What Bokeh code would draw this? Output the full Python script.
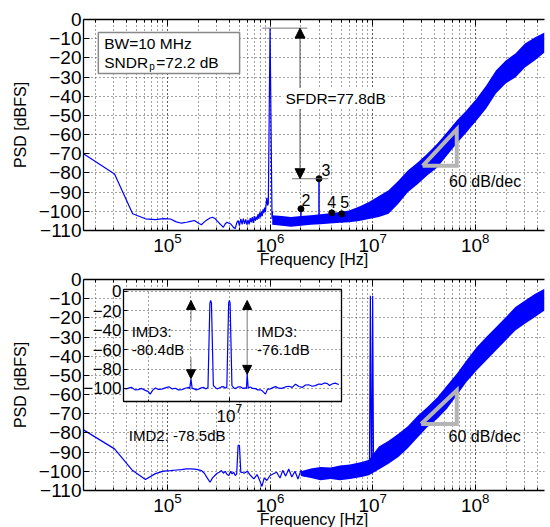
from bokeh.plotting import figure
from bokeh.layouts import column
from bokeh.models import (Range1d, FixedTicker, LogTicker, LogAxis, Label, Arrow,
                          NormalHead, BoxAnnotation)
from bokeh.embed import file_html
from bokeh.resources import INLINE

FONT = "Liberation Sans"
BLUE = "#0000ff"
GRID = "#444444"

# ---------------- data: top spectrum (single tone) ----------------
top_lf_f = [1.52e4, 3.05e4, 4.58e4, 6.1e4, 7.63e4, 9.16e4, 1.07e5, 1.22e5, 1.37e5, 1.53e5,
            1.68e5, 1.83e5, 1.98e5, 2.14e5, 2.29e5, 2.44e5, 2.6e5, 2.75e5, 2.9e5, 3.05e5,
            3.2e5, 3.36e5, 3.51e5, 3.66e5, 3.81e5, 3.97e5, 4.12e5, 4.27e5, 4.42e5, 4.58e5,
            4.73e5, 4.88e5, 5.03e5, 5.19e5, 5.34e5, 5.49e5, 5.64e5, 5.8e5, 5.95e5, 6.1e5,
            6.25e5, 6.41e5, 6.56e5, 6.71e5, 6.86e5, 7.02e5, 7.17e5, 7.32e5, 7.47e5, 7.63e5,
            7.78e5, 7.93e5, 8.08e5, 8.24e5, 8.39e5, 8.54e5, 8.69e5, 8.85e5, 9.0e5, 9.15e5,
            9.3e5, 9.46e5, 9.62e5, 1.0e6, 1.045e6, 1.06e6]
top_lf_db = [-70.0, -80.5, -101.3, -103.9, -104.3, -103.8, -104.0, -105.5, -106.2, -105.7,
             -105.2, -104.8, -106.0, -107.0, -105.5, -104.4, -103.5, -103.1, -103.7, -105.0,
             -106.2, -107.3, -108.3, -106.5, -105.7, -106.2, -106.5, -107.5, -108.5, -109.0,
             -106.0, -104.8, -107.5, -104.0, -106.8, -103.8, -106.5, -104.2, -107.0, -104.5,
             -106.8, -103.5, -105.8, -103.0, -106.0, -102.5, -105.0, -102.8, -104.5, -101.5,
             -104.0, -100.5, -103.0, -100.0, -102.5, -99.0, -101.0, -98.0, -100.5, -96.5,
             -93.0, -97.0, -96.0, -4.5, -104.0, -100.0]

top_band_f = [1.05e6, 1.3e6, 1.6e6, 2.0e6, 2.5e6, 3.1e6, 3.85e6, 4.8e6, 5.9e6, 7.4e6,
              9.2e6, 1.15e7, 1.43e7, 1.78e7, 2.2e7, 2.76e7, 3.4e7, 4.27e7, 5.3e7, 6.6e7,
              8.2e7, 1.03e8, 1.28e8, 1.59e8, 1.98e8, 2.46e8, 3.05e8, 3.8e8, 4.73e8]
top_band_lo = [-107.0, -107.5, -108.0, -107.5, -107.0, -106.8, -106.4, -106.0, -105.7, -105.0,
               -104.0, -103.0, -101.3, -96.0, -90.0, -85.7, -81.3, -77.2, -70.9, -64.7,
               -58.9, -52.7, -46.4, -38.6, -33.4, -30.2, -25.0, -21.4, -17.2]
top_band_hi = [-102.0, -102.5, -103.0, -102.5, -102.0, -101.5, -101.0, -100.3, -99.6, -97.5,
               -95.2, -92.0, -89.0, -84.0, -78.7, -74.4, -70.0, -64.7, -58.8, -52.7,
               -47.4, -41.2, -34.4, -26.6, -21.4, -17.7, -12.5, -9.4, -6.8]

harm_f = [2.0e6, 3.0e6, 4.0e6, 5.0e6]
harm_db = [-98.7, -83.0, -100.8, -101.3]
harm_floor = [-106.0, -106.0, -106.0, -106.0]
harm_lbl = ["2", "3", "4", "5"]
fund_db = -4.5

# ---------------- data: bottom spectrum (two tones) ----------------
bot_lf_f = [1.52e4, 3.05e4, 4.58e4, 6.1e4, 7.63e4, 9.16e4, 1.07e5, 1.22e5, 1.37e5, 1.53e5,
            1.68e5, 1.83e5, 1.98e5, 2.14e5, 2.29e5, 2.44e5, 2.6e5, 2.75e5, 2.9e5, 3.05e5,
            3.2e5, 3.36e5, 3.51e5, 3.66e5, 3.81e5, 3.97e5, 4.12e5, 4.27e5, 4.42e5, 4.58e5,
            4.73e5, 4.88e5, 5.03e5, 5.19e5, 5.34e5, 5.59e5, 6.01e5, 6.46e5, 6.95e5, 7.48e5,
            7.93e5, 8.34e5, 8.77e5, 9.3e5, 1.0e6, 1.08e6, 1.16e6, 1.25e6, 1.33e6, 1.42e6,
            1.52e6, 1.63e6, 1.75e6, 1.87e6, 2.0e6, 2.15e6, 2.3e6]
bot_lf_db = [-78.4, -88.3, -99.6, -104.3, -101.2, -99.9, -99.6, -99.3, -99.1, -98.7,
             -98.7, -98.9, -99.1, -99.6, -101.0, -103.4, -105.7, -103.4, -102.2, -101.0,
             -100.5, -99.6, -101.0, -100.0, -101.7, -102.2, -100.0, -101.3, -100.5, -102.2,
             -101.3, -86.5, -86.5, -100.5, -100.5, -101.0, -100.0, -102.2, -103.9, -101.7,
             -104.8, -107.9, -103.4, -104.8, -102.2, -101.3, -100.5, -103.5, -99.5, -102.5,
             -98.8, -103.0, -100.0, -104.0, -99.5, -102.5, -100.5]

bot_band_f = [2.0e6, 2.5e6, 3.1e6, 3.9e6, 4.8e6, 6.0e6, 7.8e6, 9.2e6, 1.15e7, 1.43e7,
              1.78e7, 2.2e7, 2.76e7, 3.4e7, 4.27e7, 5.3e7, 6.6e7, 8.2e7, 1.03e8, 1.28e8,
              1.59e8, 1.98e8, 2.46e8, 3.05e8, 3.8e8, 4.73e8]
bot_band_lo = [-102.5, -103.5, -104.6, -104.0, -104.6, -104.0, -103.0, -102.0, -99.0, -96.0,
               -92.6, -88.0, -82.2, -77.0, -72.6, -67.4, -60.5, -53.5, -47.4, -42.2,
               -37.0, -31.8, -26.6, -23.1, -19.7, -16.2]
bot_band_hi = [-100.0, -98.5, -97.8, -98.0, -97.0, -96.5, -95.2, -94.0, -87.0, -84.0,
               -80.4, -76.5, -70.9, -66.6, -61.4, -55.3, -49.2, -42.2, -35.3, -30.0,
               -24.9, -19.7, -14.4, -11.0, -7.5, -4.8]

tone_f = [9.3e6, 9.5e6, 9.7e6, 9.8e6, 1.0e7, 1.02e7]
tone_db = [-100.0, -8.5, -100.0, -100.0, -8.5, -100.0]

# ---------------- data: inset (zoom around the two tones) ----------------
inset_f_mhz = [7.52, 7.60, 7.65, 7.72, 7.79, 7.86, 7.94, 8.00, 8.05, 8.10,
               8.16, 8.23, 8.31, 8.39, 8.47, 8.55, 8.62, 8.70, 8.78, 8.86,
               8.94, 8.97, 9.00, 9.03, 9.07, 9.13, 9.19, 9.26, 9.32, 9.38,
               9.43, 9.48, 9.50, 9.52, 9.57, 9.62, 9.67, 9.71, 9.78, 9.84,
               9.89, 9.93, 9.98, 10.00, 10.02, 10.07, 10.12, 10.17, 10.24, 10.31,
               10.38, 10.45, 10.48, 10.50, 10.53, 10.59, 10.66, 10.74, 10.81, 10.89,
               10.96, 11.04, 11.10, 11.19, 11.27, 11.35, 11.45, 11.55, 11.66, 11.77,
               11.88, 11.99, 12.10, 12.21, 12.32, 12.43, 12.55, 12.66, 12.78, 12.89,
               12.98, 13.07, 13.16, 13.25, 13.36, 13.50]
inset_db = [-100.7, -99.5, -99.0, -101.5, -101.2, -100.0, -102.0, -103.0, -105.9, -102.0,
            -99.6, -101.0, -100.7, -99.5, -98.3, -100.5, -99.8, -101.5, -101.2, -99.8,
            -99.0, -100.0, -90.4, -100.0, -100.2, -101.5, -100.7, -99.5, -99.0, -100.5,
            -99.0, -12.0, -9.3, -12.0, -97.0, -99.0, -100.5, -99.8, -98.5, -98.2,
            -99.5, -99.0, -12.0, -9.3, -12.0, -97.0, -99.5, -100.2, -98.5, -98.3,
            -100.0, -99.5, -100.0, -85.2, -99.5, -98.5, -100.0, -100.2, -101.5, -101.5,
            -103.0, -105.9, -101.0, -100.5, -99.2, -98.2, -99.8, -100.0, -98.5, -97.8,
            -99.0, -95.6, -98.0, -99.0, -96.5, -96.2, -97.8, -97.1, -95.5, -95.8,
            -94.5, -94.8, -97.0, -95.5, -94.5, -96.0]
inset_f = [v * 1e6 for v in inset_f_mhz]

y_ticks = [-110, -100, -90, -80, -70, -60, -50, -40, -30, -20, -10, 0]
inset_y_ticks = [-100, -80, -60, -40, -20, 0]


def main_fig(min_top, height, pos_top):
    p = figure(x_axis_type="log", x_range=Range1d(1.52e4, 4.73e8), y_range=Range1d(-110, 0),
               width=542, height=height, min_border_left=69, min_border_right=0,
               min_border_top=min_top, min_border_bottom=height - min_top - 211,
               output_backend="svg", toolbar_location=None,
               styles={"position": "absolute", "left": "0px", "top": "%dpx" % pos_top})
    p.outline_line_color = None
    p.background_fill_color = "white"
    p.border_fill_color = "white"
    xt = LogTicker(num_minor_ticks=10)
    yt = FixedTicker(ticks=y_ticks)
    xa = p.xaxis[0]
    xa.ticker = xt
    xa.axis_label = "Frequency [Hz]"
    ya = p.yaxis[0]
    ya.ticker = yt
    ya.axis_label = "PSD [dBFS]"
    for ax in (xa, ya):
        ax.axis_line_color = "black"
        ax.axis_line_width = 1.3
        ax.major_tick_in = 6
        ax.major_tick_out = 0
        ax.minor_tick_in = 3
        ax.minor_tick_out = 0
        ax.major_tick_line_color = "black"
        ax.minor_tick_line_color = "black"
        ax.major_label_text_font = FONT
        ax.major_label_text_font_size = "19px"
        ax.major_label_text_color = "black"
        ax.axis_label_text_font = FONT
        ax.axis_label_text_font_size = "16px"
        ax.axis_label_text_font_style = "normal"
        ax.axis_label_text_color = "black"
    xa.major_label_standoff = 2
    xa.axis_label_standoff = -4
    ya.major_label_standoff = 2
    ya.axis_label_standoff = 7
    top = LogAxis(ticker=LogTicker(num_minor_ticks=10), major_label_text_font_size="0px",
                  major_label_text_color=None, axis_line_color="black", axis_line_width=1.3,
                  major_tick_in=6, major_tick_out=0, minor_tick_in=3, minor_tick_out=0,
                  major_label_standoff=0)
    p.add_layout(top, "above")
    p.xgrid.ticker = xt
    p.ygrid.ticker = yt
    for g in (p.xgrid, p.ygrid):
        g.grid_line_color = GRID
        g.grid_line_dash = "1 3"
        g.grid_line_width = 1
    p.xgrid.minor_grid_line_color = GRID
    p.xgrid.minor_grid_line_dash = "1 3"
    p.xgrid.minor_grid_line_width = 1
    return p


# ================= top figure =================
p1 = main_fig(11, 274, 0)
p1.varea(x=top_band_f, y1=top_band_lo, y2=top_band_hi, fill_color=BLUE)
p1.line(top_lf_f, top_lf_db, line_color=BLUE, line_width=1.2)
p1.segment(x0=harm_f, y0=harm_floor, x1=harm_f, y1=harm_db, line_color=BLUE, line_width=1.5)
p1.scatter(harm_f, harm_db, size=6, color="black")
p1.line([3.07e7, 6.6e7, 6.6e7, 3.07e7], [-76.3, -76.3, -57.3, -76.3],
        line_color="#b5b5b5", line_width=4, line_join="miter")
p1.segment(x0=[8.4e5, 1.64e6], y0=[fund_db, harm_db[1]], x1=[2.3e6, 3.7e6],
           y1=[fund_db, harm_db[1]], line_color="#666666", line_width=0.9)
p1.add_layout(Arrow(start=NormalHead(size=10, fill_color="black", line_color="black"),
                    end=NormalHead(size=10, fill_color="black", line_color="black"),
                    x_start=1.96e6, y_start=harm_db[1], x_end=1.96e6, y_end=fund_db,
                    line_color="#444444", line_width=0.9))
p1.add_layout(Label(x=1.35e6, y=-41.2, text="SFDR=77.8dB", text_font=FONT,
                    text_font_size="15.5px", text_baseline="middle", text_color="black",
                    background_fill_color="white", padding=2))
offs = [(5, 9), (7, 9), (0, 11), (3, 12)]
for f, d, t, (dx, dy) in zip(harm_f, harm_db, harm_lbl, offs):
    p1.add_layout(Label(x=f, y=d, text=t, x_offset=dx, y_offset=dy, text_font=FONT,
                        text_font_size="16px", text_align="center", text_baseline="middle",
                        text_color="black"))
p1.add_layout(BoxAnnotation(left=2.12e4, right=5.05e5, top=-6.8, bottom=-28.2,
                            fill_color="white", fill_alpha=1, line_color="#888888",
                            line_width=1.5, line_alpha=1))
p1.add_layout(Label(x=2.42e4, y=-12.5, text="BW=10 MHz", text_font=FONT, text_font_size="15.5px",
                    text_baseline="middle", text_color="black"))
p1.add_layout(Label(x=2.42e4, y=-22.4, text="SNDR", text_font=FONT, text_font_size="15.5px",
                    text_baseline="middle", text_color="black"))
p1.add_layout(Label(x=2.42e4, y=-22.4, x_offset=45, y_offset=-4, text="p", text_font=FONT,
                    text_font_size="10px", text_baseline="middle", text_color="black"))
p1.add_layout(Label(x=2.42e4, y=-22.4, x_offset=52, text="=72.2 dB", text_font=FONT,
                    text_font_size="15.5px", text_baseline="middle", text_color="black"))
p1.add_layout(Label(x=5.56e7, y=-84.5, text="60 dB/dec", text_font=FONT, text_font_size="16px",
                    text_baseline="middle", text_color="black"))

# ================= bottom figure =================
p2 = main_fig(9, 272, 262)
p2.varea(x=bot_band_f, y1=bot_band_lo, y2=bot_band_hi, fill_color=BLUE)
p2.line(bot_lf_f, bot_lf_db, line_color=BLUE, line_width=1.2)
p2.line(tone_f, tone_db, line_color=BLUE, line_width=1.2)
p2.line([2.97e7, 6.6e7, 6.6e7, 2.97e7], [-75.3, -75.3, -57.8, -75.3],
        line_color="#b5b5b5", line_width=4, line_join="miter")
p2.add_layout(Label(x=4.2e4, y=-81.3, text="IMD2: -78.5dB", text_font=FONT,
                    text_font_size="15px", text_baseline="middle", text_color="black"))
p2.add_layout(Label(x=5.5e7, y=-82.0, text="60 dB/dec", text_font=FONT, text_font_size="16px",
                    text_baseline="middle", text_color="black"))

# ================= inset =================
p3 = figure(x_axis_type="log", x_range=Range1d(7.48e6, 1.36e7), y_range=Range1d(-113.5, 2),
            width=299, height=162, min_border_left=45, min_border_top=10,
            min_border_right=6, min_border_bottom=40, output_backend="svg",
            toolbar_location=None, border_fill_color=None, background_fill_color="white",
            styles={"position": "absolute", "left": "40px", "top": "271px"})
p3.outline_line_color = "black"
p3.outline_line_width = 1.3
ixt = FixedTicker(ticks=[1e7], minor_ticks=[8e6, 9e6])
iyt = FixedTicker(ticks=inset_y_ticks)
p3.xaxis[0].ticker = ixt
p3.yaxis[0].ticker = iyt
p3.xgrid.ticker = ixt
p3.ygrid.ticker = iyt
for ax in (p3.xaxis[0], p3.yaxis[0]):
    ax.axis_line_color = "black"
    ax.major_tick_in = 4
    ax.major_tick_out = 0
    ax.minor_tick_in = 2
    ax.minor_tick_out = 0
    ax.major_label_text_font = FONT
    ax.major_label_text_font_size = "17px"
    ax.major_label_text_color = "black"
    ax.major_label_standoff = 2
for g in (p3.xgrid, p3.ygrid):
    g.grid_line_color = GRID
    g.grid_line_dash = "1 3"
p3.xgrid.minor_grid_line_color = GRID
p3.xgrid.minor_grid_line_dash = "1 3"
p3.line(inset_f, inset_db, line_color=BLUE, line_width=1.2)
hd = dict(size=9, fill_color="black", line_color="black")
p3.add_layout(Arrow(end=NormalHead(**hd), x_start=9.0e6, y_start=-30, x_end=9.0e6, y_end=-9.3,
                    line_color="#555555", line_width=0.8))
p3.add_layout(Arrow(end=NormalHead(**hd), x_start=9.0e6, y_start=-68, x_end=9.0e6, y_end=-90,
                    line_color="#555555", line_width=0.8))
p3.add_layout(Arrow(start=NormalHead(**hd), end=NormalHead(**hd), x_start=1.05e7, y_start=-85.5,
                    x_end=1.05e7, y_end=-9.3, line_color="#555555", line_width=0.8))
for x, t1, t2 in [(7.65e6, "IMD3:", "-80.4dB"), (1.079e7, "IMD3:", "-76.1dB")]:
    p3.add_layout(Label(x=x, y=-41, text=t1, text_font=FONT, text_font_size="15px",
                        text_baseline="middle", text_color="black"))
    p3.add_layout(Label(x=x, y=-60.2, text=t2, text_font=FONT, text_font_size="15px",
                        text_baseline="middle", text_color="black"))

layout = column(p1, p2, p3, width=542, height=519,
                styles={"position": "relative", "overflow": "hidden",
                        "left": "8px", "top": "8px"})

open("out.html", "w").write(file_html(layout, INLINE))
